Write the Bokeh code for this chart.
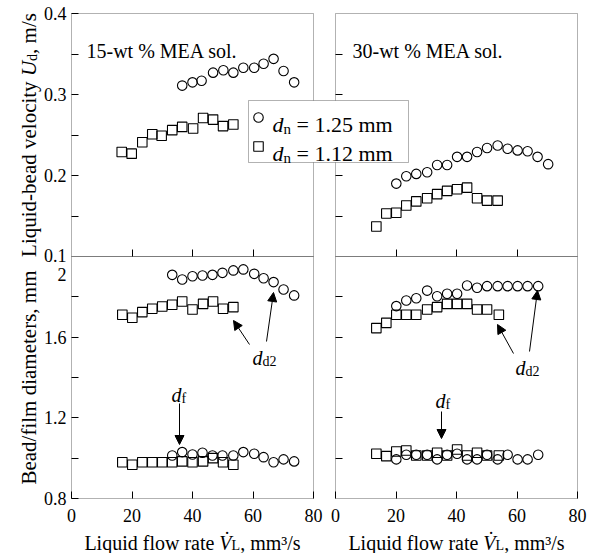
import math
from bokeh.plotting import figure
from bokeh.models import (Range1d, FixedTicker, LinearAxis, Label, BoxAnnotation,
                          Arrow, NormalHead)
from bokeh.embed import file_html
from bokeh.resources import INLINE

# ---------------- data ----------------
# 15-wt % MEA solution (left panels)
x15_ud_c = [36.6, 40.0, 43.0, 46.8, 50.2, 53.5, 56.8, 60.4, 63.5, 66.8, 70.1, 73.6]
ud15_c = [0.311, 0.315, 0.317, 0.327, 0.330, 0.327, 0.333, 0.333, 0.338, 0.344, 0.329, 0.315]
x15_ud_s = [16.6, 19.9, 23.4, 26.7, 29.8, 33.3, 36.6, 40.2, 43.5, 46.8, 50.1, 53.5]
ud15_s = [0.229, 0.227, 0.241, 0.251, 0.249, 0.256, 0.260, 0.258, 0.271, 0.269, 0.261, 0.263]
x15_d_c = [33.3, 36.6, 40.0, 43.3, 46.6, 49.9, 53.5, 56.8, 60.4, 63.5, 66.8, 70.1, 73.6]
dd15_c = [1.909, 1.886, 1.902, 1.906, 1.909, 1.919, 1.931, 1.936, 1.914, 1.892, 1.873, 1.836, 1.807]
df15_c = [1.013, 1.030, 1.018, 1.027, 1.013, 1.013, 1.013, 1.030, 1.022, 1.005, 0.980, 0.994, 0.984]
x15_d_s = [16.8, 20.1, 23.4, 26.7, 30.0, 33.3, 36.6, 40.0, 43.5, 46.8, 50.1, 53.5]
dd15_s = [1.711, 1.696, 1.724, 1.741, 1.752, 1.761, 1.777, 1.737, 1.765, 1.777, 1.741, 1.749]
df15_s = [0.980, 0.967, 0.980, 0.980, 0.980, 0.980, 0.984, 0.980, 0.984, 1.000, 0.980, 0.967]

# 30-wt % MEA solution (right panels)
x30_ud_c = [20.1, 23.4, 26.7, 30.3, 33.6, 36.9, 40.2, 43.5, 46.8, 50.1, 53.6, 56.9, 60.2, 63.5, 66.8, 70.3]
ud30_c = [0.190, 0.199, 0.202, 0.204, 0.213, 0.213, 0.223, 0.223, 0.229, 0.234, 0.237, 0.233, 0.231, 0.230, 0.223, 0.214]
x30_ud_s = [13.5, 16.8, 20.1, 23.4, 26.7, 30.3, 33.6, 36.9, 40.2, 43.5, 46.8, 50.1, 53.6]
ud30_s = [0.137, 0.153, 0.154, 0.163, 0.168, 0.172, 0.177, 0.181, 0.183, 0.185, 0.172, 0.169, 0.169]
x30_d_c = [20.1, 23.4, 26.7, 30.3, 33.6, 36.9, 40.2, 43.5, 46.8, 50.1, 53.6, 56.9, 60.2, 63.5, 67.0]
dd30_c = [1.754, 1.782, 1.793, 1.831, 1.803, 1.815, 1.815, 1.856, 1.845, 1.853, 1.853, 1.853, 1.853, 1.853, 1.853]
df30_c = [0.994, 1.017, 1.017, 1.017, 0.994, 1.017, 1.022, 0.994, 0.994, 1.017, 0.994, 1.017, 0.994, 0.994, 1.017]
x30_d_s = [13.5, 16.8, 20.1, 23.4, 26.7, 30.3, 33.6, 36.9, 40.2, 43.5, 46.8, 50.1, 54.0]
dd30_s = [1.645, 1.671, 1.711, 1.711, 1.711, 1.737, 1.749, 1.765, 1.765, 1.765, 1.737, 1.737, 1.711]
df30_s = [1.022, 1.010, 1.033, 1.038, 1.013, 1.013, 1.027, 1.013, 1.043, 1.013, 1.027, 1.013, 1.013]

x_ticks = [0, 20, 40, 60, 80]
ud_ticks = [0.2, 0.3, 0.4]
ud_minor = [0.15, 0.25, 0.35]
d_ticks = [0.8, 1.2, 1.6]
d_minor = [1.0, 1.4, 1.8]
legend_values = ["= 1.25 mm", "= 1.12 mm"]
panel_titles = ["15-wt % MEA sol.", "30-wt % MEA sol."]

# ---------------- geometry (canvas pixels) ----------------
W, H = 596, 553
L0, L1, R0, R1 = 71, 313, 335, 577
FT, FM, FB = 13, 256, 498
PXX = (L1 - L0) / 80.0
PYT = (FM - FT) / 0.3
PYB = (FB - FM) / 1.2
FONT = "Liberation Serif"
TICK_FS = 18
TITLE_FS = 20
YTITLE_FS = 21

REG = {' ': 250, '%': 833, ',': 250, '-': 333, '.': 250, '/': 278, '=': 564,
       'A': 722, 'B': 667, 'E': 611, 'L': 611, 'M': 889, 'U': 722, 'V': 722,
       'a': 444, 'b': 500, 'c': 444, 'd': 500, 'e': 444, 'f': 333, 'i': 278,
       'l': 278, 'm': 778, 'n': 500, 'o': 500, 'q': 500, 'r': 333, 's': 389,
       't': 278, 'u': 500, 'v': 500, 'w': 722, 'y': 500, '\u00b3': 300, '\u0307': 0}
ITA = {'d': 500, 'U': 722, 'V': 611, 'f': 278, '\u0307': 0}


def tw(t, size, italic=False):
    tbl = ITA if italic else REG
    return sum(tbl.get(ch, REG.get(ch, 500)) for ch in t) * size / 1000.0


def conv(X, Y):
    """canvas pixel -> primary data coordinates"""
    return (X - L0) / PXX, 0.4 - (Y - FT) / PYT


p = figure(x_range=Range1d(-L0 / PXX, (W - L0) / PXX),
           y_range=Range1d(0.4 - (H - FT) / PYT, 0.4 + FT / PYT),
           frame_width=W, frame_height=H,
           min_border_left=0, min_border_right=0, min_border_top=0, min_border_bottom=0,
           x_axis_location=None, y_axis_location=None,
           output_backend="svg", toolbar_location=None)
p.extra_x_ranges = {"r": Range1d(-R0 / PXX, (W - R0) / PXX)}
p.extra_y_ranges = {"b": Range1d(2.0 - (H - FM) / PYB, 2.0 + FM / PYB)}
p.outline_line_color = None
p.background_fill_color = "white"
p.border_fill_color = "white"
p.grid.visible = False


def add_text(X, Y, pieces, angle=0.0, center=False, baseline="alphabetic"):
    total = sum(tw(t, s, it) for t, s, it, sh in pieces)
    cur = -total / 2 if center else 0.0
    for t, s, it, sh in pieces:
        lead = len(t) - len(t.lstrip(" "))
        cur += tw(" " * lead, s, it)
        body = t.strip(" ")
        if angle == 0:
            PX, PY = X + cur, Y + sh
        else:
            PX, PY = X + sh, Y - cur
        x, y = conv(PX, PY)
        p.add_layout(Label(x=x, y=y, text=body, angle=angle, text_font=FONT,
                           text_font_size=f"{s}px",
                           text_font_style="italic" if it else "normal",
                           text_align="left", text_baseline=baseline,
                           text_color="black"))
        cur += tw(t.lstrip(" "), s, it)


def make_axis(ticks, minor, xr, yr, loc, side, labels, standoff=5):
    ax = LinearAxis(ticker=FixedTicker(ticks=ticks, minor_ticks=minor),
                    x_range_name=xr, y_range_name=yr, fixed_location=loc)
    ax.axis_line_color = None
    ax.major_tick_in = 7
    ax.major_tick_out = 0
    ax.minor_tick_in = 7
    ax.minor_tick_out = 0
    ax.major_tick_line_color = "black"
    ax.minor_tick_line_color = "black"
    ax.major_label_standoff = standoff
    ax.major_label_text_font = FONT
    ax.major_label_text_font_size = f"{TICK_FS}px"
    ax.major_label_text_color = "black" if labels else None
    p.add_layout(ax, side)


# y axes
make_axis(ud_ticks, ud_minor, "default", "default", 0, "left", True)
make_axis([0.15, 0.2, 0.25, 0.3, 0.35], [], "r", "default", 0, "left", False)
make_axis(d_ticks, d_minor, "default", "b", 0, "left", True)
make_axis([1.0, 1.2, 1.4, 1.6, 1.8], [], "r", "b", 0, "left", False)
# x axes
make_axis([20, 40, 60], [], "default", "default", 0.1, "below", False)
make_axis([20, 40, 60], [], "r", "default", 0.1, "below", False)
make_axis(x_ticks, [], "default", "b", 0.8, "below", True, standoff=10)
make_axis(x_ticks, [], "r", "b", 0.8, "below", True, standoff=10)

# panel frames
for xr in ["default", "r"]:
    p.add_layout(BoxAnnotation(left=0, right=80, bottom=0.1, top=0.4, x_range_name=xr,
                               fill_color=None, line_color="black", line_width=1))
    p.add_layout(BoxAnnotation(left=0, right=80, bottom=0.8, top=2.0, x_range_name=xr,
                               y_range_name="b", fill_color=None, line_color="black",
                               line_width=1))


def scatter_pair(xc, yc, xs, ys, xr="default", yr="default"):
    p.scatter(xc, yc, marker="circle", size=9.5, line_color="black",
              fill_color=None, line_width=1.1, x_range_name=xr, y_range_name=yr)
    p.scatter(xs, ys, marker="square", size=9.5, line_color="black",
              fill_color=None, line_width=1.1, x_range_name=xr, y_range_name=yr)


scatter_pair(x15_ud_c, ud15_c, x15_ud_s, ud15_s)
scatter_pair(x30_ud_c, ud30_c, x30_ud_s, ud30_s, "r")
scatter_pair(x15_d_c, dd15_c, x15_d_s, dd15_s, "default", "b")
scatter_pair(x15_d_c, df15_c, x15_d_s, df15_s, "default", "b")
scatter_pair(x30_d_c, dd30_c, x30_d_s, dd30_s, "r", "b")
scatter_pair(x30_d_c, df30_c, x30_d_s, df30_s, "r", "b")

# legend box (spans both velocity panels)
bx0, by0 = conv(248, 162)
bx1, by1 = conv(408, 100)
p.add_layout(BoxAnnotation(left=bx0, right=bx1, bottom=by0, top=by1,
                           fill_color="white", fill_alpha=1.0,
                           line_color="black", line_width=1))
key_x = [conv(258, 0)[0]] * 2
key_y = [conv(0, 117)[1], conv(0, 146)[1]]
p.scatter(key_x[:1], key_y[:1], marker="circle", size=9.5, line_color="black",
          fill_color=None, line_width=1.1, level="overlay")
p.scatter(key_x[1:], key_y[1:], marker="square", size=9.5, line_color="black",
          fill_color=None, line_width=1.1, level="overlay")
for yb, txt in zip([124, 153], legend_values):
    add_text(272, yb, [("d", 22, True, 0), ("n", 15, False, 4), (" " + txt, 22, False, 0)])

# panel titles
add_text(86, 50, [(panel_titles[0], 20, False, 0)])
add_text(352, 50, [(panel_titles[1], 20, False, 0)])

# tick labels at the shared panel boundary
x_lab, y_lab = conv(L0 - 5, FM - 1)
p.add_layout(Label(x=x_lab, y=y_lab, text="0.1", text_font=FONT,
                   text_font_size=f"{TICK_FS}px", text_align="right",
                   text_baseline="alphabetic", text_color="black"))
x_lab, y_lab = conv(L0 - 5, FM + 18)
p.add_layout(Label(x=x_lab, y=y_lab, text="2", text_font=FONT,
                   text_font_size=f"{TICK_FS}px", text_align="right",
                   text_baseline="alphabetic", text_color="black"))

# axis titles
add_text(28, (FT + FM) / 2,
         [("Liquid-bead velocity ", YTITLE_FS, False, 0), ("U", YTITLE_FS, True, 0),
          ("d", 14, False, 4), (", m/s", YTITLE_FS, False, 0)],
         angle=math.pi / 2, center=True)
add_text(28, (FM + FB) / 2, [("Bead/film diameters, mm", YTITLE_FS, False, 0)],
         angle=math.pi / 2, center=True)
xt_pieces = [("Liquid flow rate ", TITLE_FS, False, 0), ("V\u0307", TITLE_FS, True, 0),
             ("L", 14, False, 3), (", mm\u00b3/s", TITLE_FS, False, 0)]
add_text((L0 + L1) / 2, 542, xt_pieces, center=True)
add_text((R0 + R1) / 2, 542, xt_pieces, center=True)


def arrow(a, b):
    x0, y0 = conv(*a)
    x1, y1 = conv(*b)
    p.add_layout(Arrow(end=NormalHead(size=9, fill_color="black", line_color="black"),
                       x_start=x0, y_start=y0, x_end=x1, y_end=y1,
                       line_color="black", line_width=1))


# annotations, left
add_text(252, 357, [("d", 20, True, 0), ("d2", 14, False, 4)])
arrow((249, 344), (233, 320))
arrow((266, 341), (273, 292))
add_text(171, 394, [("d", 20, True, 0), ("f", 14, False, 4)])
arrow((179, 403), (179, 444))
# annotations, right
add_text(515, 367, [("d", 20, True, 0), ("d2", 14, False, 4)])
arrow((513, 353), (497, 324))
arrow((529, 351), (537, 290))
add_text(435, 400, [("d", 20, True, 0), ("f", 14, False, 4)])
arrow((441, 411), (441, 438))

open("out.html", "w").write(file_html(p, INLINE))
